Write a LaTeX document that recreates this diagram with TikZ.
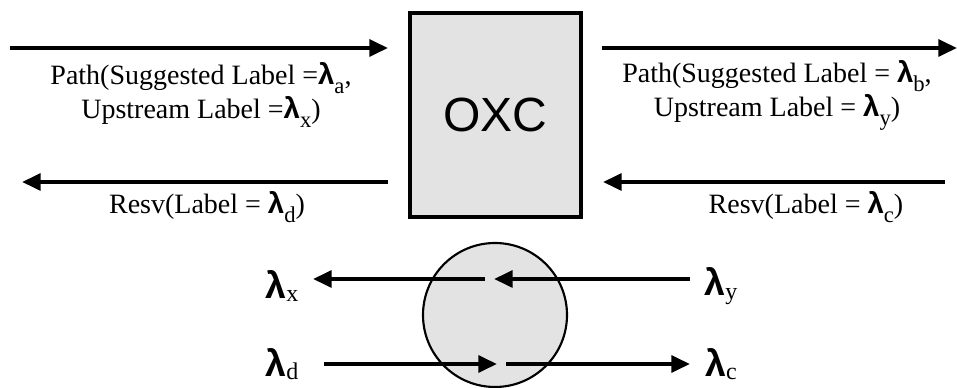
\documentclass[tikz,border=0pt]{standalone}
\usepackage{fontspec}
\setmainfont{Liberation Serif}
\newfontfamily\lamfont{Liberation Sans}
\usetikzlibrary{arrows.meta}
\newcommand{\lam}[1]{{\lamfont\bfseries\fontsize{22}{22}\selectfont λ}\raisebox{-0.7ex}{\fontsize{17}{17}\selectfont #1}}
\newcommand{\biglam}[1]{{\lamfont\bfseries\fontsize{28}{28}\selectfont λ}\raisebox{-0.6ex}{\fontsize{18}{18}\selectfont #1}}
\begin{document}
\begin{tikzpicture}[
    x=0.75pt, y=-0.75pt,
    txt/.style={align=center, font=\fontsize{21}{25.5}\selectfont, inner sep=0pt},
    lamlbl/.style={inner sep=0pt},
    arrow/.style={-{Triangle[length=14pt,width=12.5pt]}, line width=3pt},
    oxcbox/.style={draw, line width=2.6pt, fill=gray!22, minimum width=128pt, minimum height=153pt, inner sep=0pt},
    swcirc/.style={circle, draw, line width=1.6pt, fill=gray!22, minimum size=108pt, inner sep=0pt}
]
\useasboundingbox (0,0) rectangle (957,388);

\node[oxcbox] (oxc) at (495.5,115) {\fontsize{36}{36}\selectfont\lamfont OXC};
\node[swcirc] (sw) at (495,315) {};

% signalling to and from the OXC
\coordinate (inL) at (10,48);
\coordinate (inLend) at (388,48);
\coordinate (outR) at (602,48);
\coordinate (outRend) at (957,48);
\coordinate (resvL) at (388,182);
\coordinate (resvLend) at (22,182);
\coordinate (resvR) at (945,182);
\coordinate (resvRend) at (603,182);

\draw[arrow] (inL) -- (inLend);
\draw[arrow] (outR) -- (outRend);
\draw[arrow] (resvL) -- (resvLend);
\draw[arrow] (resvR) -- (resvRend);

\node[txt] (pathL) at (201,95) {Path(Suggested Label =\lam{a},\\Upstream Label =\lam{x})};
\node[txt] (pathR) at (777,95) {Path(Suggested Label = \lam{b},\\Upstream Label = \lam{y})};
\node[txt] (resvLbl) at (207,207) {Resv(Label = \lam{d})};
\node[txt] (resvRbl) at (806,207) {Resv(Label = \lam{c})};

% wavelengths through the switch
\node[lamlbl] (lx) at (282,286) {\biglam{x}};
\node[lamlbl] (ly) at (721,286) {\biglam{y}};
\node[lamlbl] (ld) at (282,364) {\biglam{d}};
\node[lamlbl] (lc) at (721,364) {\biglam{c}};

\coordinate (y0) at (690,279);
\coordinate (y1) at (494,279);
\coordinate (x0) at (485,279);
\coordinate (x1) at (313,279);
\coordinate (d0) at (324,364);
\coordinate (d1) at (497,364);
\coordinate (c0) at (506,364);
\coordinate (c1) at (690,364);

\draw[arrow] (y0) -- (y1);
\draw[arrow] (x0) -- (x1);
\draw[arrow] (d0) -- (d1);
\draw[arrow] (c0) -- (c1);

\end{tikzpicture}
\end{document}
